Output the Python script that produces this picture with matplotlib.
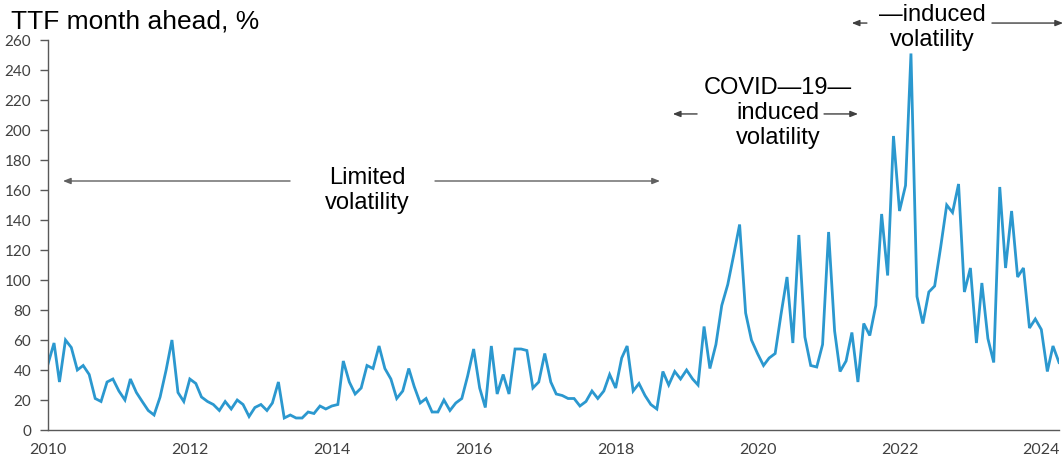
import matplotlib
matplotlib.use('Agg')
import matplotlib.pyplot as plt
import pandas as pd

# monthly TTF month-ahead volatility, Jan 2010 - Apr 2024
vol = [44, 58, 32, 60, 55, 40, 43, 37, 21, 19,
       32, 34, 26, 20, 34, 25, 19, 13, 10, 22,
       40, 60, 25, 19, 34, 31, 22, 19, 17, 13,
       19, 14, 20, 17, 9, 15, 17, 13, 18, 32,
       8, 10, 8, 8, 12, 11, 16, 14, 16, 17,
       46, 32, 24, 28, 43, 41, 56, 41, 34, 21,
       26, 41, 29, 18, 21, 12, 12, 20, 13, 18,
       21, 36, 54, 28, 15, 56, 24, 37, 24, 54,
       54, 53, 28, 32, 51, 32, 24, 23, 21, 21,
       16, 19, 26, 21, 26, 37, 28, 48, 56, 26,
       31, 23, 17, 14, 39, 30, 39, 34, 40, 34,
       30, 69, 41, 57, 83, 97, 117, 137, 78, 60,
       51, 43, 48, 51, 77, 102, 58, 130, 62, 43,
       42, 57, 132, 66, 39, 46, 65, 32, 71, 63,
       83, 144, 103, 196, 146, 163, 251, 89, 71, 92,
       96, 122, 150, 145, 164, 92, 108, 58, 98, 61,
       45, 162, 108, 146, 102, 108, 68, 74, 67, 39,
       56, 45]
start_month = '2010-01-01'
tick_years = [2010, 2012, 2014, 2016, 2018, 2020, 2022, 2024]
y_ticks = list(range(0, 261, 20))

title = 'TTF month ahead, %'
periods = ['Limited\nvolatility', 'COVID\u201419\u2014\ninduced\nvolatility',
           '\u2014induced\nvolatility']

LINE = '#2b98cf'
AXIS = '#595959'


def arrow(ax, x0, x1, y, color='#404040'):
    ax.annotate('', xy=(x1, y), xytext=(x0, y),
                xycoords=('axes fraction', 'data'),
                textcoords=('axes fraction', 'data'),
                annotation_clip=False,
                arrowprops=dict(arrowstyle='-|>,head_length=0.45,head_width=0.18',
                                color=color, lw=1.0, shrinkA=0, shrinkB=0))


def label(ax, txt, x, y):
    # x in axes fraction, y in data units
    ax.text(x, y, txt, transform=ax.get_yaxis_transform(), ha='center', va='center',
            ma='center', fontsize=17, family='Liberation Sans', color='black',
            linespacing=1.2, clip_on=False)


def main():
    dates = pd.date_range(start_month, periods=len(vol), freq='MS')

    fig = plt.figure(figsize=(10.64, 4.57), dpi=100)
    ax = fig.add_axes([48 / 1064, 27 / 457, 1011 / 1064, 390 / 457])
    ax.plot(dates, vol, color=LINE, lw=2.0, solid_joinstyle='miter')

    ax.set_xlim(dates[0], dates[-1])
    ax.set_ylim(0, 260)
    ax.set_yticks(y_ticks)
    ax.set_xticks([pd.Timestamp(f'{y}-01-01') for y in tick_years])
    ax.set_xticklabels([str(y) for y in tick_years])

    for s in ['top', 'right']:
        ax.spines[s].set_visible(False)
    for s in ['left', 'bottom']:
        ax.spines[s].set_color(AXIS)
        ax.spines[s].set_linewidth(1.0)
    ax.tick_params(axis='y', length=6, width=1, color=AXIS, pad=6,
                   labelsize=11, labelcolor='#404040')
    ax.tick_params(axis='x', length=0, pad=9, labelsize=11.5, labelcolor='#404040')
    for t in ax.get_xticklabels() + ax.get_yticklabels():
        t.set_family('Lato')

    fig.text(11 / 1064, 1 - 28 / 457, title, fontsize=19, family='Liberation Sans',
             va='baseline', ha='left')

    # limited volatility
    label(ax, periods[0], 0.3155, 159.7)
    arrow(ax, 0.2394, 0.0148, 166, '#606060')
    arrow(ax, 0.3828, 0.6053, 166, '#606060')

    # covid
    label(ax, periods[1], 0.722, 211.3)
    arrow(ax, 0.642, 0.618, 210.7)
    arrow(ax, 0.7676, 0.8012, 210.7)

    # war
    label(ax, periods[2], 0.875, 268.3)
    arrow(ax, 0.810, 0.795, 271.3)
    arrow(ax, 0.9337, 1.004, 271.3)

    fig.savefig('out.png', dpi=100)


if __name__ == '__main__':
    main()
